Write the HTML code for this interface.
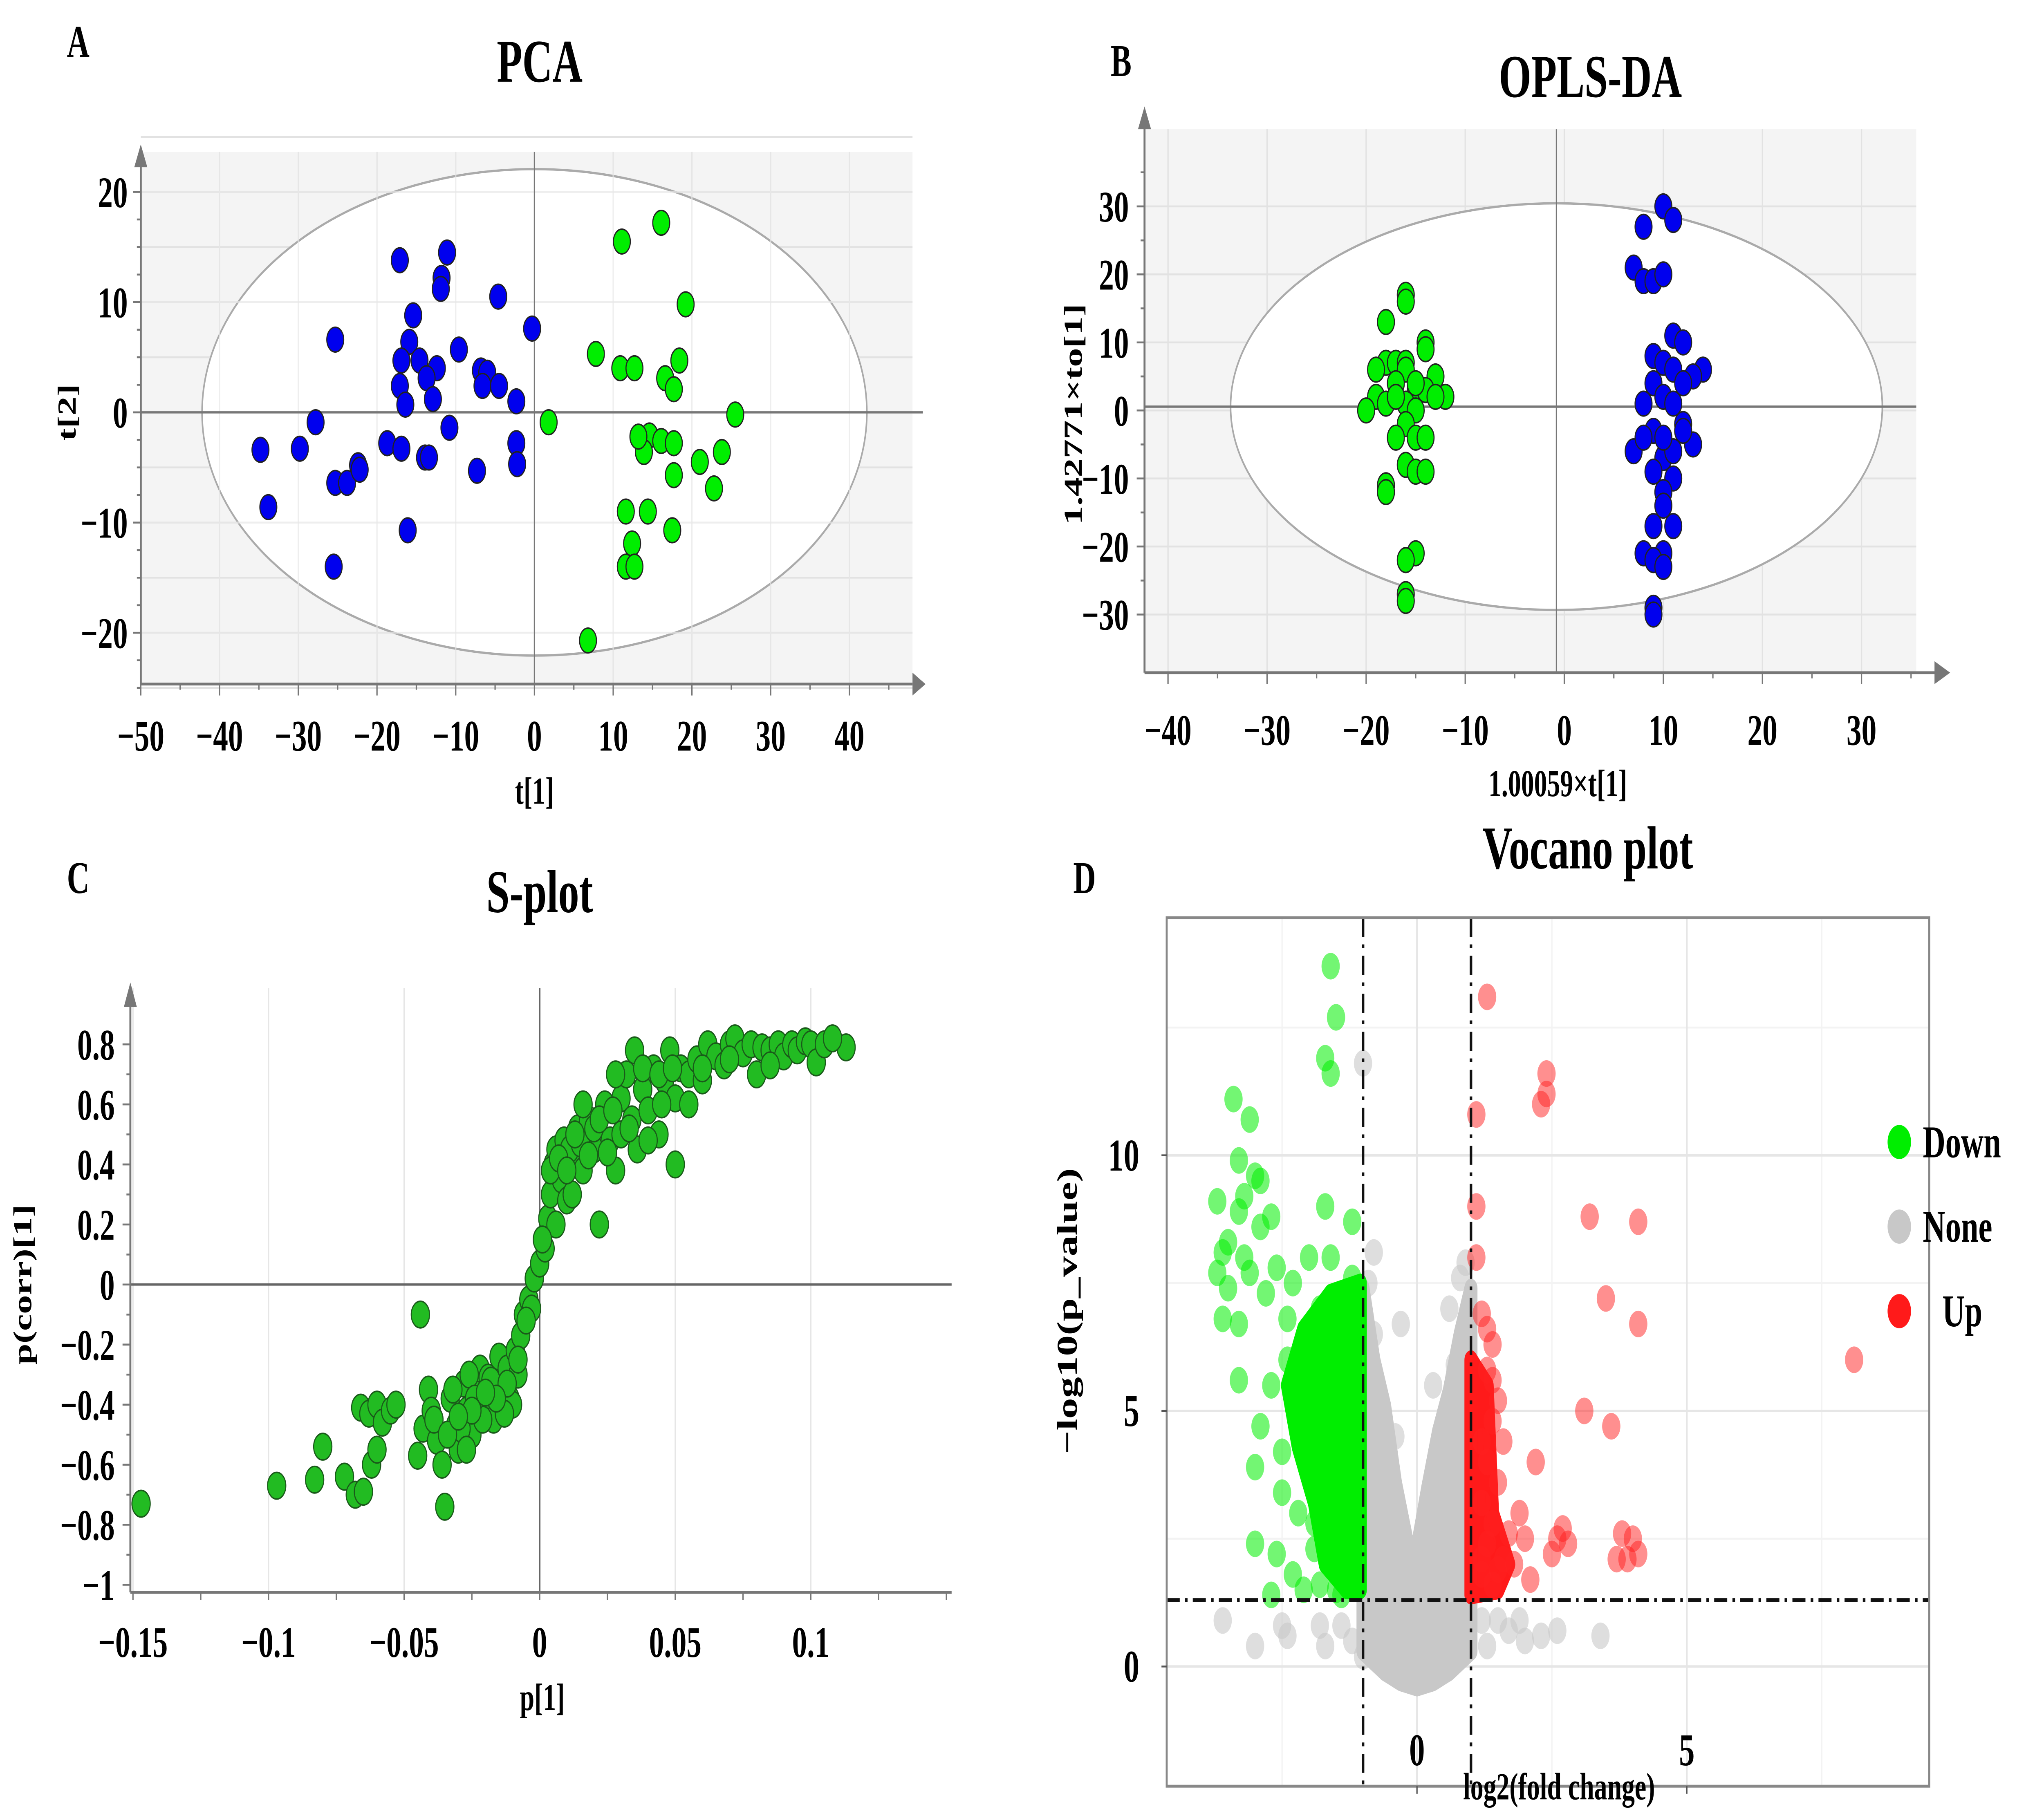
<!DOCTYPE html>
<html><head><meta charset="utf-8"><style>
html,body{margin:0;padding:0;background:#fff;width:100%;height:100%;overflow:hidden;}
svg{display:block;position:absolute;left:0;top:0;width:100vw;height:100vh;}
text{font-family:"Liberation Serif",serif;font-weight:bold;fill:#000;}
</style></head><body>
<svg id="fig" viewBox="0 0 1568 952" preserveAspectRatio="none" xmlns="http://www.w3.org/2000/svg">
<g id="gA"></g>
<g id="gB"></g>
<g id="gC"></g>
<g id="gD"></g>
</svg>
<script>
// ---------- Panel A data (PCA) ----------
const pcaBlueX=[-17.1,-11.1,-11.8,-11.9,-15.4,-15.9,-25.3,-4.6,-0.3,-9.6,-12.4,-6.8,-6.0,-16.9,-14.6,-13.7,-17.1,-6.6,-4.5,-2.3,-16.4,-12.9,-10.8,-27.8,-29.8,-34.8,-22.4,-18.7,-16.9,-13.9,-13.4,-7.3,-2.3,-2.2,-25.3,-23.8,-22.2,-33.8,-16.1,-25.5];
const pcaBlueY=[13.8,14.5,12.2,11.2,8.8,6.4,6.6,10.5,7.6,5.7,4.0,3.8,3.6,4.7,4.7,3.1,2.4,2.4,2.4,1.0,0.7,1.2,-1.4,-0.9,-3.3,-3.4,-4.8,-2.8,-3.3,-4.1,-4.1,-5.3,-2.8,-4.7,-6.4,-6.4,-5.2,-8.6,-10.7,-14.0];
const pcaGreenX=[11.1,16.1,7.8,10.9,12.7,19.2,18.4,16.6,17.7,1.8,25.5,14.6,13.9,16.1,17.7,21.0,23.8,22.8,17.7,11.6,14.4,17.5,12.4,11.6,12.7,6.8,13.2];
const pcaGreenY=[15.5,17.2,5.3,4.0,4.0,9.8,4.7,3.1,2.1,-0.9,-0.2,-2.1,-3.6,-2.6,-2.8,-4.5,-3.6,-6.9,-5.7,-9.0,-9.0,-10.7,-11.9,-14.0,-14.0,-20.7,-2.2];
const pcaXTicks=[-50,-40,-30,-20,-10,0,10,20,30,40];
const pcaYTicks=[-20,-10,0,10,20];
// ---------- Panel B data (OPLS-DA) ----------
const oplsGreenX=[-16,-16,-18,-18,-17,-16,-16,-14,-14,-19,-13,-17,-15,-19,-20,-18,-16,-14,-12,-13,-15,-16,-17,-15,-14,-16,-15,-14,-18,-18,-15,-16,-16,-16,-17,-15];
const oplsGreenY=[17,16,13,7,7,7,6,10,9,6,5,4,3,2,0,1,1,3,2,2,0,-2,-4,-4,-4,-8,-9,-9,-11,-12,-21,-22,-27,-28,2,4];
const oplsBlueX=[10,11,8,7,8,9,10,11,12,9,10,11,14,13,12,9,10,8,11,9,12,13,7,10,9,11,10,10,9,11,10,8,9,10,9,9,11,8,10,12];
const oplsBlueY=[30,28,27,21,19,19,20,11,10,8,7,6,6,5,4,4,2,1,1,-3,-2,-5,-6,-7,-9,-10,-12,-14,-17,-17,-21,-21,-22,-23,-29,-30,-6,-4,-4,-3];
const oplsXTicks=[-40,-30,-20,-10,0,10,20,30];
const oplsYTicks=[-30,-20,-10,0,10,20,30];
// ---------- Panel C data (S-plot) ----------
const sP=[-0.147,-0.097,-0.083,-0.080,-0.072,-0.068,-0.065,-0.062,-0.060,-0.066,-0.063,-0.060,-0.058,-0.055,-0.053,-0.044,-0.045,-0.043,-0.041,-0.040,-0.038,-0.036,-0.035,-0.033,-0.031,-0.030,-0.028,-0.027,-0.025,-0.023,-0.022,-0.020,-0.019,-0.017,-0.015,-0.014,-0.012,-0.011,-0.009,-0.008,-0.007,-0.006,-0.004,-0.002,0,0.002,0.003,0.004,0.005,0.006,0.008,0.009,0.010,0.012,0.014,0.016,0.018,0.020,0.022,0.024,0.026,0.028,0.030,0.032,0.034,0.035,0.036,0.038,0.040,0.042,0.044,0.046,0.048,0.050,0.050,0.052,0.055,0.058,0.060,0.062,0.065,0.068,0.070,0.072,0.075,0.078,0.080,0.082,0.085,0.088,0.090,0.093,0.095,0.098,0.100,0.102,0.105,0.113,0.108,-0.010,-0.013,-0.016,-0.021,-0.026,-0.029,-0.032,0.004,0.006,0.011,0.015,0.020,0.025,0.030,0.040,0.045,0.055,0.060,0.070,0.085,0.016,0.028,0.038,0.044,0.049,0.012,0.001,-0.003,-0.005,-0.008,-0.018,-0.024,-0.039,-0.034,-0.027,-0.012,-0.016,-0.020,-0.025,-0.030,0.007,0.010,0.013,0.018,0.022,0.027,0.033];
const sCorr=[-0.73,-0.67,-0.65,-0.54,-0.64,-0.70,-0.69,-0.60,-0.55,-0.41,-0.43,-0.40,-0.46,-0.42,-0.40,-0.10,-0.57,-0.48,-0.35,-0.42,-0.52,-0.60,-0.74,-0.38,-0.47,-0.55,-0.33,-0.42,-0.50,-0.36,-0.28,-0.40,-0.31,-0.45,-0.24,-0.34,-0.28,-0.38,-0.22,-0.30,-0.17,-0.10,-0.05,0.02,0.07,0.12,0.22,0.30,0.40,0.45,0.35,0.48,0.28,0.42,0.52,0.38,0.55,0.45,0.20,0.60,0.48,0.38,0.62,0.70,0.55,0.78,0.45,0.65,0.58,0.72,0.50,0.68,0.78,0.62,0.40,0.72,0.70,0.75,0.68,0.80,0.76,0.73,0.80,0.82,0.77,0.80,0.70,0.79,0.78,0.80,0.76,0.80,0.78,0.81,0.80,0.74,0.80,0.79,0.82,-0.40,-0.43,-0.35,-0.45,-0.30,-0.48,-0.35,0.38,0.20,0.45,0.47,0.52,0.44,0.50,0.48,0.60,0.60,0.72,0.75,0.73,0.60,0.70,0.72,0.70,0.72,0.30,0.15,-0.08,-0.12,-0.25,-0.32,-0.38,-0.45,-0.50,-0.55,-0.33,-0.38,-0.36,-0.42,-0.44,0.42,0.38,0.50,0.43,0.55,0.58,0.52];
const sXTicks=[-0.15,-0.1,-0.05,0,0.05,0.1];
const sXLabels=["\u22120.15","\u22120.1","\u22120.05","0","0.05","0.1"];
const sYTicks=[-1,-0.8,-0.6,-0.4,-0.2,0,0.2,0.4,0.6,0.8];
const sYLabels=["\u22121","\u22120.8","\u22120.6","\u22120.4","\u22120.2","0","0.2","0.4","0.6","0.8"];
// ---------- Panel D data (Volcano) ----------
const downFC=[-1.6,-1.5,-1.7,-1.6,-3.4,-3.1,-3.3,-3.0,-2.9,-3.2,-3.7,-3.3,-2.9,-1.7,-2.7,-3.6,-3.5,-3.2,-2.6,-2.0,-1.6,-1.2,-3.7,-3.5,-3.1,-2.8,-2.3,-3.6,-3.3,-2.4,-3.3,-2.7,-2.9,-3.0,-2.5,-2.5,-2.2,-2.6,-2.3,-3.0,-2.7,-2.1,-1.9,-1.8,-1.5,-1.2,-1.4,-1.6,-1.3,-1.9,-2.1,-1.8,-1.5,-2.0,-1.7,-1.3,-1.5,-1.2,-2.4,-2.2,-2.0,-1.9,-1.4,-1.1,-1.1,-1.2];
const downP=[13.7,12.7,11.9,11.6,11.1,10.7,9.9,9.6,9.5,9.2,9.1,8.9,8.6,9.0,8.8,8.1,8.3,8.0,7.8,8.0,8.0,7.6,7.7,7.4,7.7,7.3,7.5,6.8,6.7,6.8,5.6,5.5,4.7,3.9,4.2,3.4,3.0,2.2,1.8,2.4,1.4,1.5,2.3,1.6,1.5,4.0,5.0,6.0,6.5,5.5,6.3,7.0,7.2,4.5,3.5,2.5,3.0,5.5,6.0,5.0,3.8,2.8,1.4,3.0,6.5,8.7];
const downCoreFC=[-1.05,-1.6,-2.1,-2.4,-2.2,-1.9,-1.7,-1.3,-1.05];
const downCoreP=[7.5,7.3,6.6,5.5,4.3,3.2,2.0,1.5,1.5];
const noneFC=[-1.0,-0.8,-0.9,-0.8,-0.3,0.8,0.7,0.6,0.3,-3.6,-3.0,-2.5,-2.4,-1.8,-1.4,-1.7,-1.0,1.2,1.5,1.9,2.3,2.6,3.4,2.0,1.7,0.8,0.9,-0.4,0.4,-1.2,1.3];
const noneP=[11.8,8.1,7.5,6.5,6.7,6.2,5.9,7.0,5.5,0.9,0.4,0.8,0.6,0.8,0.8,0.4,0.2,0.9,0.9,0.9,0.6,0.7,0.6,0.5,0.7,7.6,7.9,4.5,4.2,0.5,0.4];
const noneCoreFC=[-1.0,-0.8,-0.6,-0.4,-0.1,0.0,0.2,0.4,0.6,0.8,1.0,1.0,0.6,0.3,0.0,-0.3,-0.6,-1.0];
const noneCoreP=[7.4,6.0,5.1,3.6,2.0,2.3,3.5,4.6,5.4,6.5,7.4,0.3,-0.1,-0.3,-0.4,-0.3,-0.1,0.3];
const upFC=[1.3,1.1,1.1,2.4,2.4,2.3,1.1,1.2,1.3,1.4,1.4,1.5,1.4,1.2,1.3,1.5,1.2,1.4,1.3,1.6,1.8,1.5,1.2,1.7,1.9,2.0,2.2,2.5,2.6,2.8,2.7,3.2,4.1,3.5,4.1,8.1,3.1,3.6,3.8,4.0,3.7,4.1,3.9,2.1,1.3,1.6,1.2,1.4];
const upP=[13.1,10.8,9.0,11.6,11.2,11.0,8.0,6.9,6.6,6.3,5.6,5.2,4.8,4.4,4.0,3.6,3.2,2.8,2.4,2.1,2.0,1.9,1.8,2.6,3.0,2.5,4.0,2.2,2.5,2.4,2.7,8.8,8.7,7.2,6.7,6.0,5.0,4.7,2.6,2.5,2.1,2.2,2.1,1.7,5.8,4.4,2.1,1.6];
const upCoreFC=[1.0,1.3,1.4,1.7,1.5,1.0];
const upCoreP=[6.0,5.5,3.0,2.0,1.5,1.4];
const volXTicks=[0,5];
const volYTicks=[0,5,10];
const legendNames=["Down","None","Up"];
const legendColors=["#00ee00","#c8c8c8","#ff1a1a"];

const NS="http://www.w3.org/2000/svg";
function mk(parent,tag,attrs){const e=document.createElementNS(NS,tag);for(const k in attrs)e.setAttribute(k,attrs[k]);parent.appendChild(e);return e;}
function txt(parent,x,y,s,size,anchor,name,rot){const t=mk(parent,'text',{x:x,y:y,'font-size':size,'text-anchor':anchor||'middle'});if(rot)t.setAttribute('transform','rotate(-90 '+x+' '+y+')');t.textContent=s;


return t;}
function fmt(v){return v<0?'\u2212'+(-v):String(v);}

// ===== Panel A =====
(function(){
const g=document.getElementById('gA');
const L=108,R=700,T=80,B=360;
const sx=v=>410+v*6.04, sy=v=>217-v*5.8;
const bg=mk(g,'rect',{x:L,y:T,width:R-L,height:B-T,fill:'#f4f4f4'});


for(let v=-50;v<=45;v+=10){const l=mk(g,'line',{x1:sx(v),x2:sx(v),y1:T,y2:B,stroke:'#e2e2e2','stroke-width':1});}
for(let v=-25;v<=25;v+=5){const l=mk(g,'line',{x1:L,x2:R,y1:sy(v),y2:sy(v),stroke:'#e2e2e2','stroke-width':1});}
const el=mk(g,'ellipse',{cx:410,cy:217,rx:255,ry:128,fill:'#fff',stroke:'#aaa','stroke-width':1.2});


for(let v=-40;v<=40;v+=10){const l=mk(g,'line',{x1:sx(v),x2:sx(v),y1:T,y2:B,stroke:'#e8e8e8','stroke-width':1,opacity:0.7});}
for(let v=-20;v<=20;v+=10){const l=mk(g,'line',{x1:L,x2:R,y1:sy(v),y2:sy(v),stroke:'#e8e8e8','stroke-width':1,opacity:0.7});}
const zx=mk(g,'line',{x1:410,x2:410,y1:T,y2:B,stroke:'#777','stroke-width':1});
const zy=mk(g,'line',{x1:L,x2:R+8,y1:sy(0),y2:sy(0),stroke:'#777','stroke-width':1.2});
const ax=mk(g,'line',{x1:L,x2:700,y1:B,y2:B,stroke:'#777','stroke-width':1.5});
const ay=mk(g,'line',{x1:L,x2:L,y1:B,y2:86,stroke:'#777','stroke-width':1.5});
const a1=mk(g,'polygon',{points:'700,354 710,360 700,366',fill:'#777'});
const a2=mk(g,'polygon',{points:'103,88 108,76 113,88',fill:'#777'});
for(let v=-50;v<=45;v+=5){mk(g,'line',{x1:sx(v),x2:sx(v),y1:B,y2:B+(v%10===0?6:3),stroke:'#777'});}
for(let v=-25;v<=20;v+=2.5){mk(g,'line',{x1:L,x2:L-(v%10===0?6:3),y1:sy(v),y2:sy(v),stroke:'#777'});}
pcaXTicks.forEach(v=>txt(g,sx(v),395,fmt(v),23,'middle','pca-x-tick-label'));
pcaYTicks.forEach(v=>txt(g,98,sy(v)+8,fmt(v),23,'end','pca-y-tick-label'));
pcaBlueX.forEach((v,i)=>{const c=mk(g,'circle',{cx:sx(v),cy:sy(pcaBlueY[i]),r:6.5,fill:'#0000ee',stroke:'#222','stroke-width':0.8});

});
pcaGreenX.forEach((v,i)=>{const c=mk(g,'circle',{cx:sx(v),cy:sy(pcaGreenY[i]),r:6.5,fill:'#00ee00',stroke:'#222','stroke-width':0.8});

});
txt(g,414,43,'PCA',32,'middle','pca-title');
txt(g,60,30,'A',24,'middle','panel-label-a');
txt(g,410,423,'t[1]',20,'middle','pca-x-axis-title');
txt(g,58,217,'t[2]',20,'middle','pca-y-axis-title',true);
})();

// ===== Panel B =====
(function(){
const g=document.getElementById('gB');
const L=878,R=1470,T=68,B=354;
const sx=v=>1200+v*7.6, sy=v=>216-v*3.58;
const bg=mk(g,'rect',{x:L,y:T,width:R-L,height:B-T,fill:'#f4f4f4'});


for(let v=-40;v<=35;v+=10){const l=mk(g,'line',{x1:sx(v),x2:sx(v),y1:T,y2:B,stroke:'#e2e2e2'});}
for(let v=-30;v<=30;v+=10){const l=mk(g,'line',{x1:L,x2:R,y1:sy(v),y2:sy(v),stroke:'#e2e2e2'});}
const el=mk(g,'ellipse',{cx:1194,cy:214,rx:250,ry:107,fill:'#fff',stroke:'#aaa','stroke-width':1.2});


const zx=mk(g,'line',{x1:1194,x2:1194,y1:T,y2:B,stroke:'#777'});
const zy=mk(g,'line',{x1:L,x2:R,y1:sy(0)-2,y2:sy(0)-2,stroke:'#777','stroke-width':1.2});
const ax=mk(g,'line',{x1:L,x2:1486,y1:B,y2:B,stroke:'#777','stroke-width':1.5});
const ay=mk(g,'line',{x1:L,x2:L,y1:B,y2:66,stroke:'#777','stroke-width':1.5});
const a1=mk(g,'polygon',{points:'1484,348 1496,354 1484,360',fill:'#777'});
const a2=mk(g,'polygon',{points:'873,68 878,56 883,68',fill:'#777'});
for(let v=-40;v<=35;v+=5){mk(g,'line',{x1:sx(v),x2:sx(v),y1:B,y2:B+(v%10===0?6:3),stroke:'#777'});}
for(let v=-30;v<=35;v+=5){mk(g,'line',{x1:L,x2:L-(v%10===0?6:3),y1:sy(v),y2:sy(v),stroke:'#777'});}
oplsXTicks.forEach(v=>txt(g,sx(v),392,fmt(v),23,'middle','oplsda-x-tick-label'));
oplsYTicks.forEach(v=>txt(g,866,sy(v)+8,fmt(v),23,'end','oplsda-y-tick-label'));
oplsGreenX.forEach((v,i)=>{const c=mk(g,'circle',{cx:sx(v),cy:sy(oplsGreenY[i]),r:6.5,fill:'#00ee00',stroke:'#222','stroke-width':0.8});

});
oplsBlueX.forEach((v,i)=>{const c=mk(g,'circle',{cx:sx(v),cy:sy(oplsBlueY[i]),r:6.5,fill:'#0000ee',stroke:'#222','stroke-width':0.8});

});
txt(g,1220,51,'OPLS-DA',32,'middle','oplsda-title');
txt(g,860,40,'B',24,'middle','panel-label-b');
txt(g,1195,419,'1.00059\u00d7t[1]',20,'middle','oplsda-x-axis-title');
txt(g,830,218,'1.42771\u00d7to[1]',20,'middle','oplsda-y-axis-title',true);
})();

// ===== Panel C =====
(function(){
const g=document.getElementById('gC');
const L=100,R=730,T=520,B=838;
const sx=v=>414+v*2080, sy=v=>676-v*158;
for(let i=0;i<sXTicks.length;i++){const v=sXTicks[i];if(v===0)continue;const l=mk(g,'line',{x1:sx(v),x2:sx(v),y1:T,y2:B,stroke:'#e6e6e6'});}
const zx=mk(g,'line',{x1:sx(0),x2:sx(0),y1:T,y2:B,stroke:'#666','stroke-width':1.2});
const zy=mk(g,'line',{x1:L,x2:R,y1:sy(0),y2:sy(0),stroke:'#666','stroke-width':1.2});
const ax=mk(g,'line',{x1:L,x2:R,y1:B,y2:B,stroke:'#777','stroke-width':1.5});
const ay=mk(g,'line',{x1:L,x2:L,y1:B,y2:528,stroke:'#777','stroke-width':1.5});
const a2=mk(g,'polygon',{points:'95,530 100,517 105,530',fill:'#777'});
for(let v=-0.15;v<=0.151;v+=0.025){mk(g,'line',{x1:sx(v),x2:sx(v),y1:B,y2:B+4,stroke:'#777'});}
sYTicks.forEach(v=>mk(g,'line',{x1:L,x2:L-6,y1:sy(v),y2:sy(v),stroke:'#777'}));
for(let i=0;i<sYTicks.length-1;i++){const m=(sYTicks[i]+sYTicks[i+1])/2;mk(g,'line',{x1:L,x2:L-3,y1:sy(m),y2:sy(m),stroke:'#777'});}
sXTicks.forEach((v,i)=>txt(g,sx(v),872,sXLabels[i],23,'middle','splot-x-tick-label'));
sYTicks.forEach((v,i)=>txt(g,88,sy(v)+8,sYLabels[i],23,'end','splot-y-tick-label'));
sP.forEach((v,i)=>{const c=mk(g,'circle',{cx:sx(v),cy:sy(sCorr[i]),r:7,fill:'#22bb22',stroke:'#1a5a1a','stroke-width':0.8});

});
txt(g,414,480,'S-plot',32,'middle','splot-title');
txt(g,60,470,'C',24,'middle','panel-label-c');
txt(g,416,900,'p[1]',20,'middle','splot-x-axis-title');
txt(g,24,676,'p(corr)[1]',20,'middle','splot-y-axis-title',true);
})();

// ===== Panel D =====
(function(){
const g=document.getElementById('gD');
const L=895,R=1480,T=483,B=940;
const sx=v=>1087+v*41.4, sy=v=>877-v*26.9;
const bg=mk(g,'rect',{x:L,y:T,width:R-L,height:B-T,fill:'#fff'});


[-2.5,2.5,7.5].forEach(v=>mk(g,'line',{x1:sx(v),x2:sx(v),y1:T,y2:B,stroke:'#f3f3f3','stroke-width':1}));
[2.5,7.5,12.5].forEach(v=>mk(g,'line',{x1:L,x2:R,y1:sy(v),y2:sy(v),stroke:'#f3f3f3','stroke-width':1}));
volXTicks.forEach(v=>{const l=mk(g,'line',{x1:sx(v),x2:sx(v),y1:T,y2:B,stroke:'#e6e6e6','stroke-width':1.3});});
volYTicks.forEach(v=>{const l=mk(g,'line',{x1:L,x2:R,y1:sy(v),y2:sy(v),stroke:'#e6e6e6','stroke-width':1.3});});
function poly(xs,ys,fill,name){const pts=xs.map((v,i)=>sx(v)+','+sy(ys[i])).join(' ');const p=mk(g,'polygon',{points:pts,fill:fill,stroke:fill,'stroke-width':10,'stroke-linejoin':'round'});

}
function pts(xs,ys,fill,op,name){xs.forEach((v,i)=>{const c=mk(g,'circle',{cx:sx(v),cy:sy(ys[i]),r:7,fill:fill,'fill-opacity':op});

});}
poly(noneCoreFC,noneCoreP,'#c8c8c8','volcano-none-core');
pts(noneFC,noneP,'#c8c8c8',0.6,'volcano-point-none');
poly(downCoreFC,downCoreP,'#00ee00','volcano-down-core');
pts(downFC,downP,'#00ee00',0.55,'volcano-point-down');
poly(upCoreFC,upCoreP,'#ff1a1a','volcano-up-core');
pts(upFC,upP,'#ff2020',0.5,'volcano-point-up');
const d1=mk(g,'line',{x1:sx(-1),x2:sx(-1),y1:T,y2:B,stroke:'#111','stroke-width':2,'stroke-dasharray':'10,4,2,4'});
const d2=mk(g,'line',{x1:sx(1),x2:sx(1),y1:T,y2:B,stroke:'#111','stroke-width':2,'stroke-dasharray':'10,4,2,4'});
const d3=mk(g,'line',{x1:L,x2:R,y1:sy(1.3),y2:sy(1.3),stroke:'#111','stroke-width':2,'stroke-dasharray':'10,4,2,4'});
const box=mk(g,'rect',{x:L,y:T,width:R-L,height:B-T,fill:'none',stroke:'#888','stroke-width':1.5});


volXTicks.forEach(v=>{mk(g,'line',{x1:sx(v),x2:sx(v),y1:B,y2:B+4,stroke:'#555'});txt(g,sx(v),929,String(v),24,'middle','volcano-x-tick-label');});
volYTicks.forEach(v=>{mk(g,'line',{x1:L,x2:L-4,y1:sy(v),y2:sy(v),stroke:'#555'});txt(g,874,sy(v)+8,String(v),24,'end','volcano-y-tick-label');});
txt(g,1218,457,'Vocano plot',32,'middle','volcano-title');
txt(g,832,470,'D',24,'middle','panel-label-d');
txt(g,1196,947,'log2(fold change)',20,'middle','volcano-x-axis-title');
txt(g,826,690,'\u2212log10(p_value)',22,'middle','volcano-y-axis-title',true);
legendNames.forEach((n,i)=>{const y=601+i*44.5;
const c=mk(g,'circle',{cx:1457,cy:y,r:9,fill:legendColors[i]});


txt(g,n==='Up'?1490:1475,y+8,n,24,'start','legend-entry-'+n.toLowerCase());});
})();
</script>
</body></html>
